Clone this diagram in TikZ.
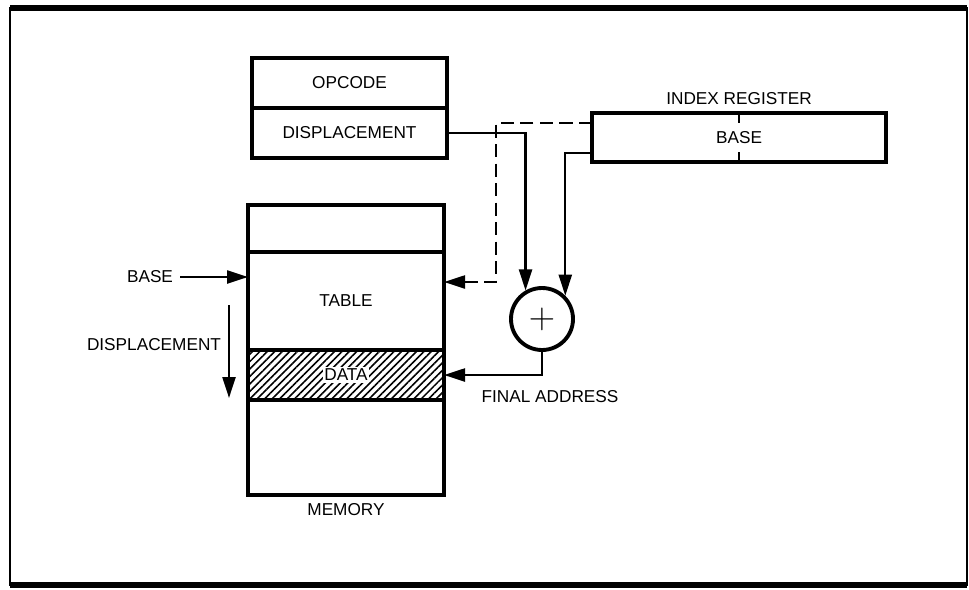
\documentclass[tikz,border=0pt]{standalone}
\usepackage{fontspec}
\setmainfont{Liberation Sans}
\usetikzlibrary{positioning,arrows.meta,patterns.meta}
\begin{document}
\begin{tikzpicture}[>={Triangle[length=4.2mm,width=2.6mm]}, node distance=0pt,
  font=\fontsize{9.8}{11}\selectfont,
  cell/.style={draw, line width=2pt, outer sep=0pt, inner sep=0pt, minimum width=3.92cm},
  link/.style={line width=1.3pt},
  caption/.style={inner sep=1pt}]
\useasboundingbox (0,0) rectangle (19.38,-11.78);
\draw[line width=1.6pt] (0.2,-0.16) rectangle (19.34,-11.7);
\draw[line width=3pt] (0.2,-0.16) -- (19.34,-0.16);
\draw[line width=3pt] (0.2,-11.7) -- (19.34,-11.7);
\node[cell, minimum width=3.9cm, minimum height=1cm] (op) at (6.99,-1.66) {OPCODE};
\node[cell, minimum width=3.9cm, minimum height=1cm, below=of op] (disp) {DISPLACEMENT};
\node[cell, minimum height=0.94cm] (mtop) at (6.92,-4.57) {};
\node[cell, minimum height=1.96cm, below=of mtop] (table) {TABLE};
\node[cell, minimum height=1cm, below=of table,
  pattern={Lines[angle=45,distance=3pt,line width=0.9pt]}] (data)
  {\setlength\fboxsep{1pt}\colorbox{white}{DATA}};
\node[cell, minimum height=1.9cm, below=of data] (mbot) {};
\node[caption, below=0.12cm of mbot] (memlbl) {MEMORY};
\node[cell, minimum width=5.88cm, minimum height=0.98cm] (reg) at (14.78,-2.75) {BASE};
\node[caption, above=0.12cm of reg] (reglbl) {INDEX REGISTER};
\draw[line width=1.4pt] (reg.north) -- ++(0,-0.2) (reg.south) -- ++(0,0.2);
\node[draw, circle, line width=2.2pt, minimum size=1.24cm, inner sep=0pt] (sum) at (10.84,-6.38)
  {\fontsize{21}{21}\selectfont$+$};
\node[caption] (baselbl) at (3.0,-5.54) {BASE};
\node[caption] (displbl) at (3.08,-6.9) {DISPLACEMENT};
\node[caption] (finlbl) at (11.0,-7.94) {FINAL ADDRESS};
\coordinate (dtop) at (4.58,-6.1);
\coordinate (dbot) at (4.58,-7.96);
\draw[link,->] ([xshift=0.1cm]baselbl.east) -- (baselbl.east -| table.west);
\draw[link,->] (dtop) -- (dbot);
\draw[link,->] (disp.east) -| (sum.120);
\draw[link,->] ([yshift=0.18cm]reg.south west) -| (sum.north east);
\draw[link,->, dash pattern=on 7.5pt off 3.6pt] ([yshift=-0.2cm]reg.north west)
  -| ([xshift=1.04cm,yshift=0.38cm]table.east) -- ([yshift=0.38cm]table.east);
\draw[link,->] (sum.south) |- (data.east);
\end{tikzpicture}
\end{document}
